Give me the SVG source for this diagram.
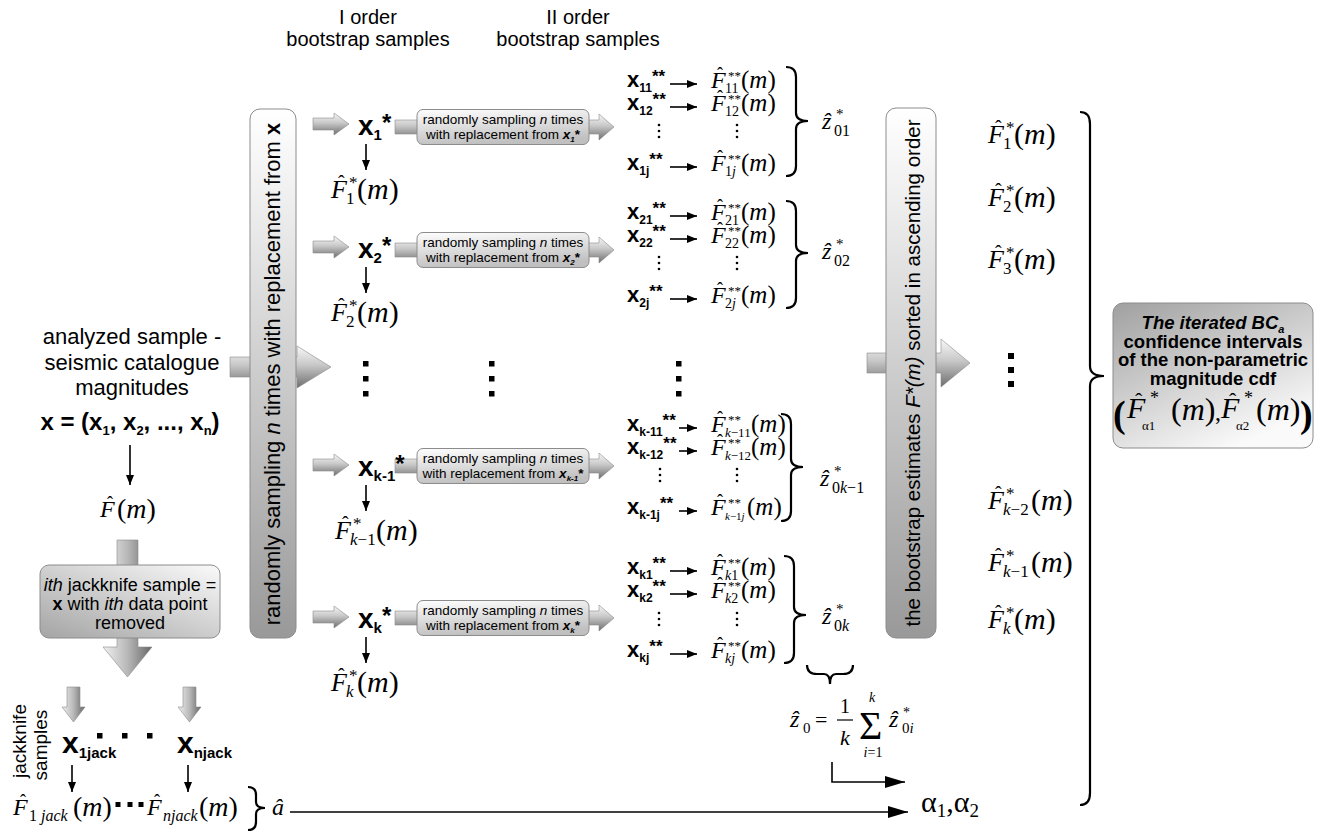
<svg xmlns="http://www.w3.org/2000/svg" width="1317" height="834" viewBox="0 0 1317 834">
<defs>
<linearGradient id="gR" x1="0" y1="0" x2="0" y2="1"><stop offset="0" stop-color="#f8f8f8"/><stop offset="0.45" stop-color="#c8c8c8"/><stop offset="1" stop-color="#6e6e6e"/></linearGradient>
<linearGradient id="gD" x1="0" y1="0" x2="1" y2="0"><stop offset="0" stop-color="#f0f0f0"/><stop offset="0.5" stop-color="#b8b8b8"/><stop offset="1" stop-color="#666666"/></linearGradient>
<linearGradient id="gV" x1="0" y1="0" x2="0" y2="1"><stop offset="0" stop-color="#ffffff"/><stop offset="0.2" stop-color="#ececec"/><stop offset="1" stop-color="#999999"/></linearGradient>
<linearGradient id="gS" x1="0" y1="0" x2="0.25" y2="1"><stop offset="0" stop-color="#fefefe"/><stop offset="1" stop-color="#c0c0c0"/></linearGradient>
<linearGradient id="gJ" x1="0" y1="1" x2="0.9" y2="0"><stop offset="0" stop-color="#a4a4a4"/><stop offset="1" stop-color="#f6f6f6"/></linearGradient>
<linearGradient id="gB" x1="0" y1="0" x2="0.6" y2="1"><stop offset="0" stop-color="#a0a0a0"/><stop offset="1" stop-color="#fafafa"/></linearGradient>
<marker id="ah" viewBox="0 0 10 8" refX="10" refY="4" markerWidth="10" markerHeight="8" markerUnits="userSpaceOnUse" orient="auto"><path d="M0,0L10,4L0,8Z" fill="#000"/></marker>
<marker id="ahL" viewBox="0 0 20 12" refX="20" refY="6" markerWidth="20" markerHeight="12" markerUnits="userSpaceOnUse" orient="auto"><path d="M0,0L20,6L0,12Z" fill="#000"/></marker>
</defs>
<style>
.sans{font-family:"Liberation Sans",Arial,sans-serif}
.serif{font-family:"Liberation Serif","DejaVu Serif","Times New Roman",serif}
.it{font-style:italic}
.b{font-weight:bold}
.box{stroke:#8c8c8c;stroke-width:1}
.arrR{fill:url(#gR);stroke:#8a8a8a;stroke-width:0.6}
.arrD{fill:url(#gD);stroke:#8a8a8a;stroke-width:0.6}
.ln{stroke:#000;stroke-width:1.6;fill:none}
.br{stroke:#000;stroke-width:2.2;fill:none}
.dot{fill:#000}
</style>
<rect width="1317" height="834" fill="#ffffff"/>

<g id="connectors">
<polygon class="arrR" points="230,357 297,357 297,346 331,367 297,388 297,377 230,377"/>
<polygon class="arrR" points="867,353 941,353 941,339 970,363 941,387 941,373 867,373"/>
<polygon class="arrR" points="313,118 334,118 334,113 349,124 334,135 334,130 313,130"/>
<polygon class="arrR" points="313,241 334,241 334,236 349,247 334,258 334,253 313,253"/>
<polygon class="arrR" points="313,459 334,459 334,454 349,465 334,476 334,471 313,471"/>
<polygon class="arrR" points="313,611 334,611 334,606 349,617 334,628 334,623 313,623"/>
<polygon class="arrR" points="395,120 599,120 599,114 614,127 599,140 599,134 395,134"/>
<polygon class="arrR" points="395,243 599,243 599,237 614,250 599,263 599,257 395,257"/>
<polygon class="arrR" points="395,459 599,459 599,453 614,466 599,479 599,473 395,473"/>
<polygon class="arrR" points="395,611 599,611 599,605 614,618 599,631 599,625 395,625"/>
<polygon class="arrD" points="117,540 138,540 138,647 152,647 127.5,677 103,647 117,647"/>
<polygon class="arrD" points="67,687 80,687 80,707 85,707 73.5,722 62,707 67,707"/>
<polygon class="arrD" points="183,687 196,687 196,707 201,707 189.5,722 178,707 183,707"/>
<path class="ln" d="M130 445V485" marker-end="url(#ah)"/>
<path class="ln" d="M366 144V170" marker-end="url(#ah)"/>
<path class="ln" d="M366 267V293" marker-end="url(#ah)"/>
<path class="ln" d="M366 485V511" marker-end="url(#ah)"/>
<path class="ln" d="M366 637V663" marker-end="url(#ah)"/>
<path class="ln" d="M72 765V792" marker-end="url(#ah)"/>
<path class="ln" d="M188 765V792" marker-end="url(#ah)"/>
<path class="ln" d="M670 84H697" marker-end="url(#ah)"/>
<path class="ln" d="M670 107H697" marker-end="url(#ah)"/>
<path class="ln" d="M670 167H697" marker-end="url(#ah)"/>
<path class="ln" d="M670 216H697" marker-end="url(#ah)"/>
<path class="ln" d="M670 239H697" marker-end="url(#ah)"/>
<path class="ln" d="M670 299H697" marker-end="url(#ah)"/>
<path class="ln" d="M679 428H697" marker-end="url(#ah)"/>
<path class="ln" d="M679 451H697" marker-end="url(#ah)"/>
<path class="ln" d="M679 511H697" marker-end="url(#ah)"/>
<path class="ln" d="M670 571H697" marker-end="url(#ah)"/>
<path class="ln" d="M670 594H697" marker-end="url(#ah)"/>
<path class="ln" d="M670 654H697" marker-end="url(#ah)"/>
<path class="ln" d="M832 762V782H905" marker-end="url(#ahL)"/>
<path class="ln" d="M290 812H908" marker-end="url(#ahL)"/>
</g>

<g id="header-I" class="sans" font-size="20" text-anchor="middle">
<text x="368" y="24">I order</text>
<text x="368" y="46">bootstrap samples</text>
</g>
<g id="header-II" class="sans" font-size="20" text-anchor="middle">
<text x="578" y="24">II order</text>
<text x="578" y="46">bootstrap samples</text>
</g>

<g id="node-sample" class="sans" font-size="22" text-anchor="middle">
<text x="132" y="344">analyzed sample -</text>
<text x="132" y="370">seismic catalogue</text>
<text x="132" y="395">magnitudes</text>
<text x="130" y="430" class="b" font-size="24">x = (x<tspan font-size="13" dy="5">1</tspan><tspan dy="-5">, x</tspan><tspan font-size="13" dy="5">2</tspan><tspan dy="-5">, ..., x</tspan><tspan font-size="13" dy="5">n</tspan><tspan dy="-5">)</tspan></text>
</g>

<g id="node-Fhat">
<text class="serif" font-size="24"><tspan x="100" y="517" class="it">F</tspan><tspan x="107" y="509" font-size="18">ˆ</tspan><tspan x="117" y="518" font-size="28">(<tspan class="it">m</tspan>)</tspan></text>
</g>

<g id="node-jackbox">
<rect x="40" y="565" width="180" height="73" rx="9" fill="url(#gJ)" class="box"/>
<text class="sans" font-size="18" text-anchor="middle"><tspan x="130" y="591"><tspan class="it">ith</tspan> jackknife sample =</tspan><tspan x="130" y="610"><tspan class="b">x</tspan> with <tspan class="it">ith</tspan> data point</tspan><tspan x="130" y="629">removed</tspan></text>
</g>

<g id="node-jack-samples">
<text class="sans" font-size="19" text-anchor="middle" transform="rotate(-90)"><tspan x="-741" y="26">jackknife</tspan><tspan x="-745" y="47">samples</tspan></text>
<text x="62" y="753" class="sans b" font-size="30">x<tspan font-size="15" dy="5">1jack</tspan></text>
<text x="177" y="753" class="sans b" font-size="30">x<tspan font-size="15" dy="5">njack</tspan></text>
<rect class="dot" x="97" y="733" width="5.5" height="5.5"/>
<rect class="dot" x="122" y="733" width="5.5" height="5.5"/>
<rect class="dot" x="147" y="733" width="5.5" height="5.5"/>
<text class="serif" font-size="24"><tspan x="13" y="815" class="it">F</tspan><tspan x="20" y="807" font-size="18">ˆ</tspan><tspan x="29" y="821" font-size="16">1 <tspan class="it">jack</tspan></tspan><tspan x="73" y="816" font-size="28">(<tspan class="it">m</tspan>)</tspan></text>
<rect class="dot" x="115.5" y="802" width="5" height="5"/>
<rect class="dot" x="127.5" y="802" width="5" height="5"/>
<rect class="dot" x="138.5" y="802" width="5" height="5"/>
<text class="serif" font-size="24"><tspan x="147" y="815" class="it">F</tspan><tspan x="154" y="807" font-size="18">ˆ</tspan><tspan x="163" y="821" font-size="16" class="it">njack</tspan><tspan x="199" y="816" font-size="28">(<tspan class="it">m</tspan>)</tspan></text>
<path class="br" d="M248 787Q256 787 256 795L256 802Q256 808 265 808Q256 808 256 814L256 822Q256 830 248 830"/>
<text x="272" y="815" class="serif it" font-size="24">â</text>
</g>

<g id="node-resample-box">
<rect x="250" y="109" width="46" height="529" rx="10" fill="url(#gV)" class="box"/>
<text transform="rotate(-90)" x="-374" y="280" text-anchor="middle" class="sans" font-size="22">randomly sampling <tspan class="it">n</tspan> times with replacement from <tspan class="b">x</tspan></text>
</g>

<g id="node-row1">
<text x="358" y="135" class="sans b" font-size="28">x<tspan font-size="15" dy="5">1</tspan><tspan font-size="24" y="131">*</tspan></text>
<text class="serif" font-size="26"><tspan x="331" y="198" class="it">F</tspan><tspan x="338" y="190" font-size="20">ˆ</tspan><tspan x="349" y="188" font-size="17">*</tspan><tspan x="346" y="204" font-size="17">1</tspan><tspan x="357" y="199" font-size="30">(<tspan class="it">m</tspan>)</tspan></text>
<rect x="417" y="109.5" width="172" height="35" rx="6" fill="url(#gS)" class="box"/>
<text class="sans" font-size="13.5" text-anchor="middle"><tspan x="503" y="124">randomly sampling <tspan class="it">n</tspan> times</tspan><tspan x="503" y="139">with replacement from <tspan class="it b">x</tspan><tspan class="it b" font-size="8" dy="3">1</tspan><tspan class="b" dy="-3">*</tspan></tspan></text>
</g>

<g id="node-row2">
<text x="358" y="258" class="sans b" font-size="28">x<tspan font-size="15" dy="5">2</tspan><tspan font-size="24" y="254">*</tspan></text>
<text class="serif" font-size="26"><tspan x="331" y="321" class="it">F</tspan><tspan x="338" y="313" font-size="20">ˆ</tspan><tspan x="349" y="311" font-size="17">*</tspan><tspan x="346" y="327" font-size="17">2</tspan><tspan x="357" y="322" font-size="30">(<tspan class="it">m</tspan>)</tspan></text>
<rect x="417" y="232.5" width="172" height="35" rx="6" fill="url(#gS)" class="box"/>
<text class="sans" font-size="13.5" text-anchor="middle"><tspan x="503" y="247">randomly sampling <tspan class="it">n</tspan> times</tspan><tspan x="503" y="262">with replacement from <tspan class="it b">x</tspan><tspan class="it b" font-size="8" dy="3">2</tspan><tspan class="b" dy="-3">*</tspan></tspan></text>
</g>

<g id="node-dots-mid">
<rect class="dot" x="363" y="361" width="5.5" height="5.5"/>
<rect class="dot" x="363" y="376" width="5.5" height="5.5"/>
<rect class="dot" x="363" y="391" width="5.5" height="5.5"/>
<rect class="dot" x="489" y="361" width="5.5" height="5.5"/>
<rect class="dot" x="489" y="376" width="5.5" height="5.5"/>
<rect class="dot" x="489" y="391" width="5.5" height="5.5"/>
<rect class="dot" x="676" y="361" width="5.5" height="5.5"/>
<rect class="dot" x="676" y="376" width="5.5" height="5.5"/>
<rect class="dot" x="676" y="391" width="5.5" height="5.5"/>
</g>

<g id="node-rowk1">
<text x="358" y="476" class="sans b" font-size="28">x<tspan font-size="15" dy="5">k-1</tspan><tspan font-size="24" y="472">*</tspan></text>
<text class="serif" font-size="26"><tspan x="335" y="539" class="it">F</tspan><tspan x="342" y="531" font-size="20">ˆ</tspan><tspan x="353" y="529" font-size="17">*</tspan><tspan x="350" y="545" font-size="17"><tspan class="it">k</tspan>−1</tspan><tspan x="376" y="540" font-size="30">(<tspan class="it">m</tspan>)</tspan></text>
<rect x="417" y="448.5" width="172" height="35" rx="6" fill="url(#gS)" class="box"/>
<text class="sans" font-size="13.5" text-anchor="middle"><tspan x="503" y="463">randomly sampling <tspan class="it">n</tspan> times</tspan><tspan x="503" y="478">with replacement from <tspan class="it b">x</tspan><tspan class="it b" font-size="8" dy="3">k-1</tspan><tspan class="b" dy="-3">*</tspan></tspan></text>
</g>

<g id="node-rowk">
<text x="358" y="628" class="sans b" font-size="28">x<tspan font-size="15" dy="5">k</tspan><tspan font-size="24" y="624">*</tspan></text>
<text class="serif" font-size="26"><tspan x="331" y="691" class="it">F</tspan><tspan x="338" y="683" font-size="20">ˆ</tspan><tspan x="349" y="681" font-size="17">*</tspan><tspan x="346" y="697" font-size="17" class="it">k</tspan><tspan x="357" y="692" font-size="30">(<tspan class="it">m</tspan>)</tspan></text>
<rect x="417" y="600.5" width="172" height="35" rx="6" fill="url(#gS)" class="box"/>
<text class="sans" font-size="13.5" text-anchor="middle"><tspan x="503" y="615">randomly sampling <tspan class="it">n</tspan> times</tspan><tspan x="503" y="630">with replacement from <tspan class="it b">x</tspan><tspan class="it b" font-size="8" dy="3">k</tspan><tspan class="b" dy="-3">*</tspan></tspan></text>
</g>

<g id="node-group1">
<text x="627" y="87" class="sans b" font-size="22">x<tspan font-size="12" dy="5">11</tspan><tspan font-size="17" y="82">**</tspan></text>
<text x="627" y="110" class="sans b" font-size="22">x<tspan font-size="12" dy="5">12</tspan><tspan font-size="17" y="105">**</tspan></text>
<text x="627" y="170" class="sans b" font-size="22">x<tspan font-size="12" dy="5">1j</tspan><tspan font-size="17" y="165">**</tspan></text>
<circle class="dot" cx="659" cy="125" r="1.3"/><circle class="dot" cx="659" cy="131" r="1.3"/><circle class="dot" cx="659" cy="137" r="1.3"/>
<circle class="dot" cx="737" cy="125" r="1.3"/><circle class="dot" cx="737" cy="131" r="1.3"/><circle class="dot" cx="737" cy="137" r="1.3"/>
<text class="serif" font-size="24"><tspan x="711" y="88" class="it">F</tspan><tspan x="717" y="80" font-size="18">ˆ</tspan><tspan x="728" y="80" font-size="13">**</tspan><tspan x="725" y="93" font-size="14">11</tspan><tspan x="741" y="88" font-size="25">(<tspan class="it">m</tspan>)</tspan></text>
<text class="serif" font-size="24"><tspan x="711" y="111" class="it">F</tspan><tspan x="717" y="103" font-size="18">ˆ</tspan><tspan x="728" y="103" font-size="13">**</tspan><tspan x="725" y="116" font-size="14">12</tspan><tspan x="741" y="111" font-size="25">(<tspan class="it">m</tspan>)</tspan></text>
<text class="serif" font-size="24"><tspan x="711" y="171" class="it">F</tspan><tspan x="717" y="163" font-size="18">ˆ</tspan><tspan x="728" y="163" font-size="13">**</tspan><tspan x="725" y="176" font-size="14">1<tspan class="it">j</tspan></tspan><tspan x="741" y="171" font-size="25">(<tspan class="it">m</tspan>)</tspan></text>
<path class="br" d="M786 67Q796 67 796 77L796 113Q796 121 808 121Q796 121 796 129L796 166Q796 176 786 176"/>
<text class="serif" font-size="24"><tspan x="822" y="129" class="it">ẑ</tspan><tspan x="836" y="119" font-size="15">*</tspan><tspan x="834" y="136" font-size="16">01</tspan></text>
</g>

<g id="node-group2">
<text x="627" y="219" class="sans b" font-size="22">x<tspan font-size="12" dy="5">21</tspan><tspan font-size="17" y="214">**</tspan></text>
<text x="627" y="242" class="sans b" font-size="22">x<tspan font-size="12" dy="5">22</tspan><tspan font-size="17" y="237">**</tspan></text>
<text x="627" y="302" class="sans b" font-size="22">x<tspan font-size="12" dy="5">2j</tspan><tspan font-size="17" y="297">**</tspan></text>
<circle class="dot" cx="659" cy="257" r="1.3"/><circle class="dot" cx="659" cy="263" r="1.3"/><circle class="dot" cx="659" cy="269" r="1.3"/>
<circle class="dot" cx="737" cy="257" r="1.3"/><circle class="dot" cx="737" cy="263" r="1.3"/><circle class="dot" cx="737" cy="269" r="1.3"/>
<text class="serif" font-size="24"><tspan x="711" y="220" class="it">F</tspan><tspan x="717" y="212" font-size="18">ˆ</tspan><tspan x="728" y="212" font-size="13">**</tspan><tspan x="725" y="225" font-size="14">21</tspan><tspan x="741" y="220" font-size="25">(<tspan class="it">m</tspan>)</tspan></text>
<text class="serif" font-size="24"><tspan x="711" y="243" class="it">F</tspan><tspan x="717" y="235" font-size="18">ˆ</tspan><tspan x="728" y="235" font-size="13">**</tspan><tspan x="725" y="248" font-size="14">22</tspan><tspan x="741" y="243" font-size="25">(<tspan class="it">m</tspan>)</tspan></text>
<text class="serif" font-size="24"><tspan x="711" y="303" class="it">F</tspan><tspan x="717" y="295" font-size="18">ˆ</tspan><tspan x="728" y="295" font-size="13">**</tspan><tspan x="725" y="308" font-size="14">2<tspan class="it">j</tspan></tspan><tspan x="741" y="303" font-size="25">(<tspan class="it">m</tspan>)</tspan></text>
<path class="br" d="M786 201Q796 201 796 211L796 245Q796 253 808 253Q796 253 796 261L796 298Q796 308 786 308"/>
<text class="serif" font-size="24"><tspan x="822" y="259" class="it">ẑ</tspan><tspan x="836" y="249" font-size="15">*</tspan><tspan x="834" y="266" font-size="16">02</tspan></text>
</g>

<g id="node-group3">
<text x="627" y="431" class="sans b" font-size="22">x<tspan font-size="12" dy="5">k-11</tspan><tspan font-size="17" y="426">**</tspan></text>
<text x="627" y="454" class="sans b" font-size="22">x<tspan font-size="12" dy="5">k-12</tspan><tspan font-size="17" y="449">**</tspan></text>
<text x="627" y="514" class="sans b" font-size="22">x<tspan font-size="12" dy="5">k-1j</tspan><tspan font-size="17" y="509">**</tspan></text>
<circle class="dot" cx="660" cy="469" r="1.3"/><circle class="dot" cx="660" cy="475" r="1.3"/><circle class="dot" cx="660" cy="481" r="1.3"/>
<circle class="dot" cx="737" cy="469" r="1.3"/><circle class="dot" cx="737" cy="475" r="1.3"/><circle class="dot" cx="737" cy="481" r="1.3"/>
<text class="serif" font-size="24"><tspan x="711" y="432" class="it">F</tspan><tspan x="717" y="424" font-size="18">ˆ</tspan><tspan x="728" y="424" font-size="13">**</tspan><tspan x="725" y="437" font-size="13"><tspan class="it">k</tspan>−11</tspan><tspan x="751" y="432" font-size="25">(<tspan class="it">m</tspan>)</tspan></text>
<text class="serif" font-size="24"><tspan x="711" y="455" class="it">F</tspan><tspan x="717" y="447" font-size="18">ˆ</tspan><tspan x="728" y="447" font-size="13">**</tspan><tspan x="725" y="460" font-size="13"><tspan class="it">k</tspan>−12</tspan><tspan x="751" y="455" font-size="25">(<tspan class="it">m</tspan>)</tspan></text>
<text class="serif" font-size="24"><tspan x="711" y="515" class="it">F</tspan><tspan x="717" y="507" font-size="18">ˆ</tspan><tspan x="728" y="507" font-size="13">**</tspan><tspan x="725" y="520" font-size="11"><tspan class="it">k</tspan>−1<tspan class="it">j</tspan></tspan><tspan x="747" y="515" font-size="25">(<tspan class="it">m</tspan>)</tspan></text>
<path class="br" d="M781 414Q791 414 791 424L791 459Q791 467 803 467Q791 467 791 475L791 511Q791 521 781 521"/>
<text class="serif" font-size="24"><tspan x="820" y="486" class="it">ẑ</tspan><tspan x="834" y="476" font-size="15">*</tspan><tspan x="832" y="493" font-size="16">0<tspan class="it">k</tspan>−1</tspan></text>
</g>

<g id="node-group4">
<text x="627" y="574" class="sans b" font-size="22">x<tspan font-size="12" dy="5">k1</tspan><tspan font-size="17" y="569">**</tspan></text>
<text x="627" y="597" class="sans b" font-size="22">x<tspan font-size="12" dy="5">k2</tspan><tspan font-size="17" y="592">**</tspan></text>
<text x="627" y="657" class="sans b" font-size="22">x<tspan font-size="12" dy="5">kj</tspan><tspan font-size="17" y="652">**</tspan></text>
<circle class="dot" cx="659" cy="613" r="1.3"/><circle class="dot" cx="659" cy="619" r="1.3"/><circle class="dot" cx="659" cy="625" r="1.3"/>
<circle class="dot" cx="737" cy="613" r="1.3"/><circle class="dot" cx="737" cy="619" r="1.3"/><circle class="dot" cx="737" cy="625" r="1.3"/>
<text class="serif" font-size="24"><tspan x="711" y="575" class="it">F</tspan><tspan x="717" y="567" font-size="18">ˆ</tspan><tspan x="728" y="567" font-size="13">**</tspan><tspan x="725" y="580" font-size="14"><tspan class="it">k</tspan>1</tspan><tspan x="741" y="575" font-size="25">(<tspan class="it">m</tspan>)</tspan></text>
<text class="serif" font-size="24"><tspan x="711" y="598" class="it">F</tspan><tspan x="717" y="590" font-size="18">ˆ</tspan><tspan x="728" y="590" font-size="13">**</tspan><tspan x="725" y="603" font-size="14"><tspan class="it">k</tspan>2</tspan><tspan x="741" y="598" font-size="25">(<tspan class="it">m</tspan>)</tspan></text>
<text class="serif" font-size="24"><tspan x="711" y="658" class="it">F</tspan><tspan x="717" y="650" font-size="18">ˆ</tspan><tspan x="728" y="650" font-size="13">**</tspan><tspan x="725" y="663" font-size="14" class="it">kj</tspan><tspan x="741" y="658" font-size="25">(<tspan class="it">m</tspan>)</tspan></text>
<path class="br" d="M784 556Q794 556 794 566L794 607Q794 615 806 615Q794 615 794 623L794 653Q794 663 784 663"/>
<text class="serif" font-size="24"><tspan x="822" y="624" class="it">ẑ</tspan><tspan x="836" y="614" font-size="15">*</tspan><tspan x="834" y="631" font-size="16">0<tspan class="it">k</tspan></tspan></text>
</g>

<g id="node-z0">
<path class="br" d="M807 665Q807 674 817 674L824 674Q830 674 830 684Q830 674 836 674L843 674Q853 674 853 665"/>
<text class="serif" font-size="24"><tspan x="790" y="727" class="it">ẑ</tspan><tspan x="803" y="733" font-size="15">0</tspan><tspan x="815" y="727" font-size="22">=</tspan><tspan x="845" y="713" font-size="20" text-anchor="middle">1</tspan><tspan x="845" y="745" font-size="22" class="it" text-anchor="middle">k</tspan><tspan x="859" y="739" font-size="40">Σ</tspan><tspan x="872" y="702" font-size="14" class="it" text-anchor="middle">k</tspan><tspan x="873" y="757" font-size="14" text-anchor="middle"><tspan class="it">i</tspan>=1</tspan><tspan x="889" y="727" class="it">ẑ</tspan><tspan x="903" y="717" font-size="14">*</tspan><tspan x="902" y="733" font-size="15">0<tspan class="it">i</tspan></tspan></text>
<line x1="837" y1="720" x2="853" y2="720" stroke="#000" stroke-width="1.2"/>
</g>

<g id="node-alpha">
<text class="serif" font-size="30" x="921" y="812">α<tspan font-size="19" dy="5">1</tspan><tspan dy="-5">,α</tspan><tspan font-size="19" dy="5">2</tspan></text>
</g>

<g id="node-sorted-box">
<rect x="886" y="108" width="50" height="530" rx="10" fill="url(#gV)" class="box"/>
<text transform="rotate(-90)" x="-373" y="920" text-anchor="middle" class="sans" font-size="20.5">the bootstrap estimates <tspan class="it">F*(m)</tspan> sorted in ascending order</text>
</g>

<g id="node-sorted-list">
<text class="serif" font-size="26"><tspan x="988" y="143" class="it">F</tspan><tspan x="995" y="135" font-size="20">ˆ</tspan><tspan x="1006" y="133" font-size="17">*</tspan><tspan x="1003" y="149" font-size="17">1</tspan><tspan x="1014" y="144" font-size="30">(<tspan class="it">m</tspan>)</tspan></text>
<text class="serif" font-size="26"><tspan x="988" y="206" class="it">F</tspan><tspan x="995" y="198" font-size="20">ˆ</tspan><tspan x="1006" y="196" font-size="17">*</tspan><tspan x="1003" y="212" font-size="17">2</tspan><tspan x="1014" y="207" font-size="30">(<tspan class="it">m</tspan>)</tspan></text>
<text class="serif" font-size="26"><tspan x="988" y="268" class="it">F</tspan><tspan x="995" y="260" font-size="20">ˆ</tspan><tspan x="1006" y="258" font-size="17">*</tspan><tspan x="1003" y="274" font-size="17">3</tspan><tspan x="1014" y="269" font-size="30">(<tspan class="it">m</tspan>)</tspan></text>
<rect class="dot" x="1008" y="353" width="6" height="6"/>
<rect class="dot" x="1008" y="367" width="6" height="6"/>
<rect class="dot" x="1008" y="381" width="6" height="6"/>
<text class="serif" font-size="26"><tspan x="988" y="509" class="it">F</tspan><tspan x="995" y="501" font-size="20">ˆ</tspan><tspan x="1006" y="499" font-size="17">*</tspan><tspan x="1003" y="515" font-size="17"><tspan class="it">k</tspan>−2</tspan><tspan x="1031" y="510" font-size="30">(<tspan class="it">m</tspan>)</tspan></text>
<text class="serif" font-size="26"><tspan x="988" y="571" class="it">F</tspan><tspan x="995" y="563" font-size="20">ˆ</tspan><tspan x="1006" y="561" font-size="17">*</tspan><tspan x="1003" y="577" font-size="17"><tspan class="it">k</tspan>−1</tspan><tspan x="1031" y="572" font-size="30">(<tspan class="it">m</tspan>)</tspan></text>
<text class="serif" font-size="26"><tspan x="988" y="628" class="it">F</tspan><tspan x="995" y="620" font-size="20">ˆ</tspan><tspan x="1006" y="618" font-size="17">*</tspan><tspan x="1003" y="634" font-size="17" class="it">k</tspan><tspan x="1014" y="629" font-size="30">(<tspan class="it">m</tspan>)</tspan></text>
<path class="br" d="M1080 112Q1090 112 1090 124L1090 366Q1090 376 1104 376Q1090 376 1090 386L1090 793Q1090 805 1080 805"/>
</g>

<g id="node-bca">
<rect x="1113" y="303" width="200" height="145" rx="10" fill="url(#gB)" class="box"/>
<text class="sans b" font-size="18.5" text-anchor="middle"><tspan x="1213" y="329" class="it">The iterated BC<tspan font-size="11" dy="4">a</tspan></tspan><tspan x="1213" y="348">confidence intervals</tspan><tspan x="1213" y="366">of the non-parametric</tspan><tspan x="1213" y="385">magnitude cdf</tspan></text>
<text class="serif" font-size="30"><tspan x="1113" y="427" font-size="38" font-weight="bold">(</tspan><tspan x="1127" y="418" class="it">F</tspan><tspan x="1135" y="408" font-size="22">ˆ</tspan><tspan x="1150" y="404" font-size="18">*</tspan><tspan x="1142" y="430" font-size="13">α1</tspan><tspan x="1171" y="420" font-size="32">(<tspan class="it">m</tspan>)</tspan><tspan x="1215" y="420" font-size="24">,</tspan><tspan x="1221" y="418" class="it">F</tspan><tspan x="1229" y="408" font-size="22">ˆ</tspan><tspan x="1244" y="404" font-size="18">*</tspan><tspan x="1236" y="430" font-size="13">α2</tspan><tspan x="1256" y="420" font-size="32">(<tspan class="it">m</tspan>)</tspan><tspan x="1300" y="427" font-size="38" font-weight="bold">)</tspan></text>
</g>
</svg>
